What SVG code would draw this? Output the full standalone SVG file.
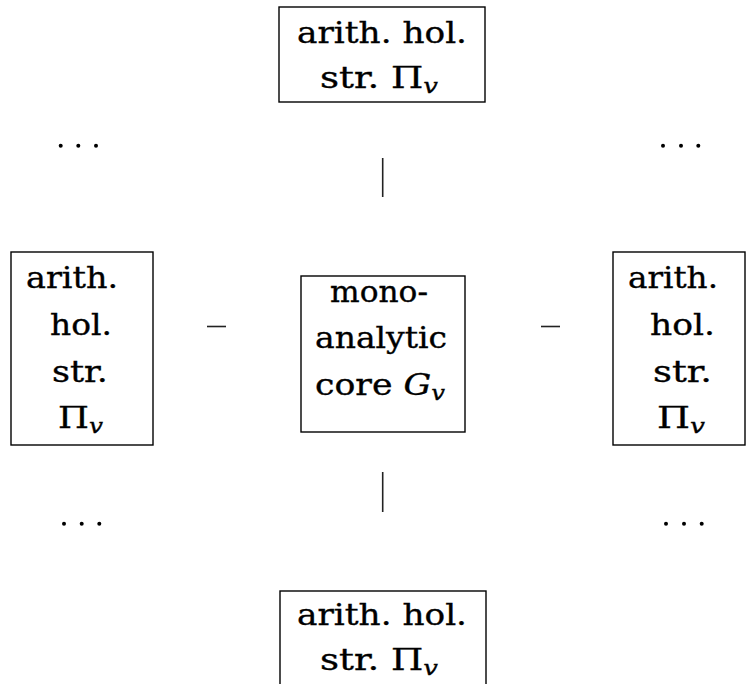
<svg xmlns="http://www.w3.org/2000/svg" width="746" height="684" viewBox="0 0 746 684">
<style>
  .box { fill: #ffffff; stroke: #000000; stroke-width: 1.4; }
  .t { font-family: "DejaVu Serif", "Liberation Serif", serif; font-size: 30px; fill: #000000; stroke: #000000; stroke-width: 0.35; }
  .sub { font-style: italic; font-size: 21px; }
  .it { font-style: italic; }
  .conn { stroke: #222222; stroke-width: 1.6; fill: none; }
  .dot { fill: #000000; }
</style>
<rect width="746" height="684" fill="#ffffff"/>
<g id="connectors">
  <line class="conn" x1="382.7" y1="158" x2="382.7" y2="197"/>
  <line class="conn" x1="382.7" y1="472" x2="382.7" y2="512"/>
  <line class="conn" x1="207" y1="326.5" x2="226" y2="326.5"/>
  <line class="conn" x1="541" y1="326.5" x2="560" y2="326.5"/>
</g>
<g id="dots">
  <circle class="dot" cx="60.7" cy="145.7" r="2"/>
  <circle class="dot" cx="78.3" cy="145.7" r="2"/>
  <circle class="dot" cx="96" cy="145.7" r="2"/>
  <circle class="dot" cx="663" cy="145.7" r="2"/>
  <circle class="dot" cx="681" cy="145.7" r="2"/>
  <circle class="dot" cx="698.3" cy="145.7" r="2"/>
  <circle class="dot" cx="64" cy="523.7" r="2"/>
  <circle class="dot" cx="81.7" cy="523.7" r="2"/>
  <circle class="dot" cx="99.3" cy="523.7" r="2"/>
  <circle class="dot" cx="666" cy="523.7" r="2"/>
  <circle class="dot" cx="684" cy="523.7" r="2"/>
  <circle class="dot" cx="701.7" cy="523.7" r="2"/>
</g>
<g id="node-top">
  <rect class="box" x="279" y="7" width="206" height="95"/>
  <text class="t" x="297" y="43" textLength="170" lengthAdjust="spacingAndGlyphs">arith.  hol.</text>
  <text class="t" x="320" y="88" textLength="118" lengthAdjust="spacingAndGlyphs">str. Π<tspan class="sub" dy="5">v</tspan></text>
</g>
<g id="node-left">
  <rect class="box" x="11" y="252" width="142" height="193"/>
  <text class="t" x="26" y="288" textLength="92" lengthAdjust="spacingAndGlyphs">arith.</text>
  <text class="t" x="50" y="335" textLength="62" lengthAdjust="spacingAndGlyphs">hol.</text>
  <text class="t" x="52" y="382" textLength="56" lengthAdjust="spacingAndGlyphs">str.</text>
  <text class="t" x="58" y="428" textLength="45" lengthAdjust="spacingAndGlyphs">Π<tspan class="sub" dy="5">v</tspan></text>
</g>
<g id="node-center">
  <rect class="box" x="301" y="276" width="164" height="156"/>
  <text class="t" x="330" y="302" textLength="98" lengthAdjust="spacingAndGlyphs">mono-</text>
  <text class="t" x="315" y="348" textLength="132" lengthAdjust="spacingAndGlyphs">analytic</text>
  <text class="t" x="315" y="395" textLength="130" lengthAdjust="spacingAndGlyphs">core <tspan class="it">G</tspan><tspan class="sub" dy="5">v</tspan></text>
</g>
<g id="node-right">
  <rect class="box" x="613" y="252" width="132" height="193"/>
  <text class="t" x="628" y="288" textLength="90" lengthAdjust="spacingAndGlyphs">arith.</text>
  <text class="t" x="650" y="335" textLength="65" lengthAdjust="spacingAndGlyphs">hol.</text>
  <text class="t" x="653" y="382" textLength="59" lengthAdjust="spacingAndGlyphs">str.</text>
  <text class="t" x="657" y="428" textLength="48" lengthAdjust="spacingAndGlyphs">Π<tspan class="sub" dy="5">v</tspan></text>
</g>
<g id="node-bottom">
  <rect class="box" x="280" y="591" width="206" height="110"/>
  <text class="t" x="297" y="625" textLength="170" lengthAdjust="spacingAndGlyphs">arith.  hol.</text>
  <text class="t" x="320" y="670" textLength="118" lengthAdjust="spacingAndGlyphs">str. Π<tspan class="sub" dy="5">v</tspan></text>
</g>
</svg>
